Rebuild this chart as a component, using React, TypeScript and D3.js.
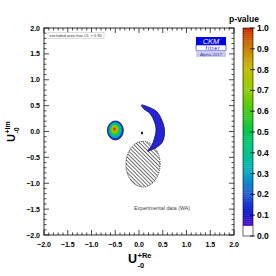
import React from 'react';
import * as d3 from 'd3';

// frame axes
const axisTicks = [-2, -1.5, -1, -0.5, 0, 0.5, 1, 1.5, 2];
const axisTickLabels = ['\u22122.0', '\u22121.5', '\u22121.0', '\u22120.5', '0.0', '0.5', '1.0', '1.5', '2.0'];

// p-value colour bar
const pTicks = [0, 0.1, 0.2, 0.3, 0.4, 0.5, 0.6, 0.7, 0.8, 0.9, 1.0];
const pTickLabels = ['0.0', '0.1', '0.2', '0.3', '0.4', '0.5', '0.6', '0.7', '0.8', '0.9', '1.0'];
const paletteDomain = [0.05, 0.1, 0.2, 0.3, 0.4, 0.5, 0.6, 0.7, 0.8, 0.9, 1.0];
const paletteColors = ['#5a14c8', '#1414d0', '#1a5ad6', '#04a8c8', '#00c890', '#00c850', '#40cc10', '#90cc00', '#c4c000', '#cc8400', '#cc2a00'];

// small island (p-value contours)
const blobP = [0.15, 0.32, 0.48, 0.65, 0.82, 0.97];
const blobCx = [-0.497, -0.502, -0.507, -0.511, -0.514, -0.517];
const blobCy = [0.02, 0.026, 0.032, 0.037, 0.042, 0.046];
const blobRx = [0.168, 0.14, 0.112, 0.085, 0.058, 0.032];
const blobRy = [0.184, 0.152, 0.122, 0.092, 0.064, 0.036];

// crescent (outer edge then inner edge)
const crescentX = [0.05, 0.189, 0.373, 0.478, 0.53, 0.53, 0.478, 0.379, 0.253, 0.185, 0.27, 0.32, 0.36, 0.325, 0.235, 0.1];
const crescentY = [0.512, 0.475, 0.385, 0.222, 0.068, -0.1, -0.222, -0.3, -0.357, -0.38, -0.27, -0.15, 0.03, 0.19, 0.345, 0.44];

// experimental (WA) region
const waCenter = [0.084, -0.63];
const waRadius = [0.36, 0.44];
const dotPos = [0.063, -0.03];

export default function App() {
  const x = d3.scaleLinear().domain([-2, 2]).range([44, 234]);
  const y = d3.scaleLinear().domain([-2, 2]).range([235, 28]);
  const pY = d3.scaleLinear().domain([0, 1]).range([236, 28]);
  const interp = d3.scaleLinear<string>().domain(paletteDomain).range(paletteColors).clamp(true);
  const palette = (p: number) => (p < 0.05 ? '#ffffff' : interp(p));

  const minor = d3.range(-2, 2.001, 0.1);
  const bands = d3.range(0, 1, 0.01);

  const crescentLine = d3.line<number>()
    .x(i => x(crescentX[i]))
    .y(i => y(crescentY[i]))
    .curve(d3.curveCatmullRomClosed);

  const font = 'Liberation Sans, Arial, sans-serif';

  return (
    <svg width={276} height={276} style={{ position: 'absolute', left: 0, top: 0, background: '#fff' }} fontFamily={font}>
      <defs>
        <pattern id="hatch" width={2.7} height={2.7} patternUnits="userSpaceOnUse" patternTransform="rotate(-45)">
          <line x1={0} y1={0} x2={0} y2={2.7} stroke="#111" strokeWidth={1.2} />
        </pattern>
        <clipPath id="frame"><rect x={44} y={28} width={190} height={207} /></clipPath>
      </defs>

      <g clipPath="url(#frame)">
        {/* WA region */}
        <ellipse cx={x(waCenter[0])} cy={y(waCenter[1])}
          rx={x(waCenter[0] + waRadius[0]) - x(waCenter[0])}
          ry={y(waCenter[1]) - y(waCenter[1] + waRadius[1])}
          fill="url(#hatch)" stroke="#000" strokeWidth={0.8} strokeDasharray="1,1" />
        {/* island */}
        {blobP.map((p, i) => (
          <ellipse key={i} cx={x(blobCx[i])} cy={y(blobCy[i])}
            rx={x(blobCx[i] + blobRx[i]) - x(blobCx[i])}
            ry={y(blobCy[i]) - y(blobCy[i] + blobRy[i])}
            fill={palette(p)} stroke={i === 0 ? '#101060' : 'none'} strokeWidth={0.8} />
        ))}
        {/* crescent */}
        <path d={crescentLine(d3.range(crescentX.length)) || ''} fill="#2424d6" stroke="#10106a" strokeWidth={0.9} />
        <ellipse cx={x(dotPos[0])} cy={y(dotPos[1])} rx={1} ry={1.4} fill="#000" />
      </g>

      {/* frame + ticks */}
      <rect x={44} y={28} width={190} height={207} fill="none" stroke="#000" strokeWidth={0.8} />
      {minor.map((v, i) => {
        const major = i % 5 === 0;
        const L = major ? 5 : 2.5;
        return (
          <g key={i} stroke="#000" strokeWidth={0.7}>
            <line x1={x(v)} x2={x(v)} y1={235} y2={235 - L} />
            <line x1={x(v)} x2={x(v)} y1={28} y2={28 + L} />
            <line x1={44} x2={44 + L} y1={y(v)} y2={y(v)} />
            <line x1={234} x2={234 - L} y1={y(v)} y2={y(v)} />
          </g>
        );
      })}
      {axisTicks.map((v, i) => (
        <g key={i} fontSize={7} fontWeight="bold">
          <text x={x(v)} y={247} textAnchor="middle">{axisTickLabels[i]}</text>
          <text x={40} y={y(v) + 2.5} textAnchor="end">{axisTickLabels[i]}</text>
        </g>
      ))}

      {/* axis titles */}
      <g fontWeight="bold">
        <text x={128} y={263} fontSize={12.5}>U</text>
        <text x={137.5} y={258} fontSize={7.5}>+Re</text>
        <text x={137.5} y={267.5} fontSize={7.5}>-0</text>
        <g transform="translate(15,142) rotate(-90)">
          <text x={0} y={0} fontSize={11}>U</text>
          <text x={8.5} y={-5.5} fontSize={7}>+Im</text>
          <text x={8.5} y={3.5} fontSize={7}>-0</text>
        </g>
      </g>

      {/* annotations */}
      <rect x={48} y={32.5} width={56} height={6} fill="#fff" stroke="#bbb" strokeWidth={0.5} />
      <text x={49.5} y={37.2} fontSize={4.1} fill="#333">excluded area has CL &gt; 0.95</text>
      <text x={x(-0.105)} y={y(-1.517)} fontSize={5.3} fill="#444">Experimental data (WA)</text>

      {/* CKMfitter logo */}
      <rect x={196} y={37} width={30} height={8} fill="#0000ee" />
      <text x={211} y={44} textAnchor="middle" fontSize={7.5} fontStyle="italic" fill="#fff">CKM</text>
      <rect x={196} y={45} width={30} height={5.5} fill="#fff" stroke="#0000ee" strokeWidth={0.6} />
      <text x={213} y={49.7} textAnchor="middle" fontSize={5.2} fill="#0000ee" letterSpacing={0.8}>fitter</text>
      <rect x={196} y={50.5} width={30} height={6.5} fill="#ccccf2" />
      <text x={211} y={55.6} textAnchor="middle" fontSize={4.4} fill="#3333aa">Alpha 2017</text>

      {/* colour bar */}
      {bands.map((p, i) => (
        <rect key={i} x={243} y={pY(p + 0.01)} width={10} height={pY(p) - pY(p + 0.01) + 0.3} fill={palette(p + 0.005)} />
      ))}
      <rect x={243} y={28} width={10} height={208} fill="none" stroke="#000" strokeWidth={0.6} />
      {pTicks.map((p, i) => (
        <g key={i}>
          <line x1={250} x2={255} y1={pY(p)} y2={pY(p)} stroke="#000" strokeWidth={0.8} />
          <text x={257} y={pY(p) + 3} fontSize={8.5} fontWeight="bold">{pTickLabels[i]}</text>
        </g>
      ))}
      <text x={244} y={22} textAnchor="middle" fontSize={8.5} fontWeight="bold">p-value</text>
    </svg>
  );
}
